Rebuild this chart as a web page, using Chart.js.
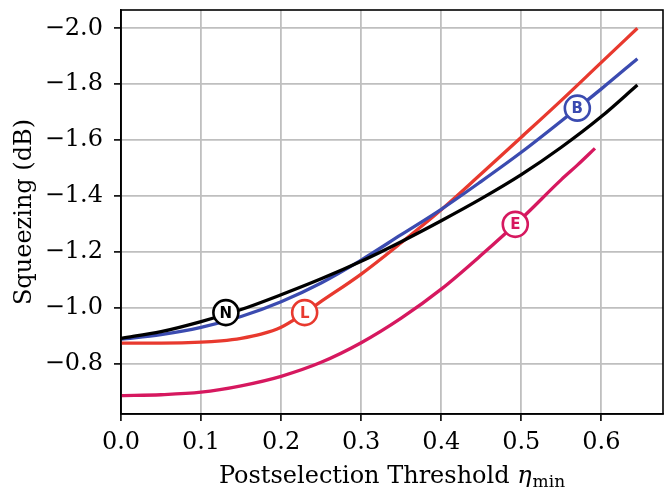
<!DOCTYPE html>
<html><head><meta charset="utf-8">
<style>html,body{margin:0;padding:0;background:#fff}#wrap{width:670px;height:487px}</style>
<script src="https://cdn.jsdelivr.net/npm/chart.js@4"></script>
</head><body><div id="wrap"><canvas id="c" width="670" height="487"></canvas></div>
<script>
// ---- data ----
const xGridN  = [0, 0.05, 0.1, 0.15, 0.2, 0.25, 0.3, 0.35, 0.4, 0.45, 0.5, 0.55, 0.6, 0.645];
const seriesN = [-0.890, -0.914, -0.950, -0.993, -1.046, -1.103, -1.166, -1.236, -1.311, -1.390, -1.476, -1.574, -1.684, -1.797];
const xGridB  = [0, 0.05, 0.1, 0.15, 0.2, 0.25, 0.3, 0.35, 0.4, 0.45, 0.5, 0.55, 0.6, 0.645];
const seriesB = [-0.887, -0.903, -0.929, -0.968, -1.021, -1.088, -1.170, -1.261, -1.352, -1.452, -1.556, -1.668, -1.783, -1.891];
const xGridL  = [0, 0.05, 0.1, 0.125, 0.15, 0.175, 0.2, 0.225, 0.25, 0.3, 0.35, 0.4, 0.45, 0.5, 0.55, 0.6, 0.645];
const seriesL = [-0.873, -0.873, -0.876, -0.881, -0.890, -0.905, -0.930, -0.973, -1.022, -1.120, -1.232, -1.350, -1.479, -1.610, -1.742, -1.878, -2.000];
const xGridE  = [0, 0.05, 0.1, 0.15, 0.2, 0.25, 0.3, 0.35, 0.4, 0.45, 0.5, 0.55, 0.57, 0.592];
const seriesE = [-0.685, -0.688, -0.697, -0.720, -0.754, -0.804, -0.874, -0.962, -1.066, -1.188, -1.318, -1.458, -1.510, -1.570];

const labelNames  = ['N', 'L', 'E', 'B'];
const labelX      = [0.131, 0.2294, 0.4925, 0.570];
const labelY      = [-0.982, -0.982, -1.298, -1.714];

const xTickValues = [0, 0.1, 0.2, 0.3, 0.4, 0.5, 0.6];
const xTickLabels = ['0.0', '0.1', '0.2', '0.3', '0.4', '0.5', '0.6'];
const yTickValues = [-2.0, -1.8, -1.6, -1.4, -1.2, -1.0, -0.8];
const yTickLabels = ['\u22122.0', '\u22121.8', '\u22121.6', '\u22121.4', '\u22121.2', '\u22121.0', '\u22120.8'];

const xTitleMain = 'Postselection Threshold ';
const xTitleSym  = '\u03b7';
const xTitleSub  = 'min';
const yTitle     = 'Squeezing (dB)';

// ---- styles ----
const colN = '#000000', colB = '#3b4bb0', colL = '#e8392e', colE = '#d6185f';
const labelColors = [colN, colL, colE, colB];

const toPts = (xs, ys) => xs.map((x, i) => ({x: x, y: ys[i]}));
const pickLabel = (vals, labs, v) => {
  for (let i = 0; i < vals.length; i++) if (Math.abs(vals[i] - v) < 1e-6) return labs[i];
  return '';
};

const lineDs = (label, pts, color) => ({
  label, data: pts, borderColor: color, backgroundColor: color, borderWidth: 3.3,
  pointRadius: 0, fill: false, cubicInterpolationMode: 'monotone', tension: 0.4,
  borderCapStyle: 'butt', borderJoinStyle: 'round'
});

const decor = {
  id: 'decor',
  afterDatasetsDraw(chart) {
    const {ctx, chartArea: a, scales} = chart;
    ctx.save();
    ctx.font = 'bold 15px "DejaVu Sans"';
    ctx.textAlign = 'center';
    ctx.textBaseline = 'middle';
    labelNames.forEach((n, i) => {
      const px = scales.x.getPixelForValue(labelX[i]);
      const py = scales.y.getPixelForValue(labelY[i]);
      ctx.fillStyle = labelColors[i];
      ctx.fillText(n, px, py + 1);
    });
    ctx.restore();
    ctx.save();
    ctx.strokeStyle = '#000';
    ctx.lineWidth = 1.6;
    ctx.strokeRect(a.left, a.top, a.right - a.left, a.bottom - a.top);
    ctx.restore();
  },
  afterDraw(chart) {
    const {ctx, chartArea: a} = chart;
    ctx.save();
    ctx.fillStyle = '#000';
    ctx.textBaseline = 'alphabetic';
    const fMain = '24px "DejaVu Serif"';
    const fSym = 'italic 24px "DejaVu Serif"';
    const fSub = '17px "DejaVu Serif"';
    ctx.font = fMain; const w1 = ctx.measureText(xTitleMain).width;
    ctx.font = fSym;  const w2 = ctx.measureText(xTitleSym).width;
    ctx.font = fSub;  const w3 = ctx.measureText(xTitleSub).width;
    const total = w1 + w2 + w3 + 1;
    let x = (a.left + a.right) / 2 - total / 2;
    const base = 482.5;
    ctx.textAlign = 'left';
    ctx.font = fMain; ctx.fillText(xTitleMain, x, base); x += w1;
    ctx.font = fSym;  ctx.fillText(xTitleSym, x, base); x += w2 + 1;
    ctx.font = fSub;  ctx.fillText(xTitleSub, x, base + 4);
    ctx.restore();
  }
};

new Chart(document.getElementById('c'), {
  type: 'line',
  data: {
    datasets: [
      {
        label: 'labels', data: toPts(labelX, labelY), showLine: false,
        pointRadius: 12.5, pointHoverRadius: 12.5, pointBorderWidth: 2.6,
        pointBackgroundColor: '#ffffff', pointBorderColor: labelColors,
        borderColor: labelColors, backgroundColor: '#ffffff', clip: false
      },
      lineDs('N', toPts(xGridN, seriesN), colN),
      lineDs('B', toPts(xGridB, seriesB), colB),
      lineDs('L', toPts(xGridL, seriesL), colL),
      lineDs('E', toPts(xGridE, seriesE), colE)
    ]
  },
  options: {
    responsive: false, animation: false, devicePixelRatio: 1,
    layout: {autoPadding: false, padding: {top: 10, right: 7, left: 0, bottom: 0}},
    plugins: {legend: {display: false}, tooltip: {enabled: false}},
    scales: {
      x: {
        type: 'linear', min: 0, max: 0.677,
        ticks: {
          stepSize: 0.1, includeBounds: false, autoSkip: false, maxRotation: 0,
          color: '#000', padding: 7, font: {family: 'DejaVu Serif', size: 24},
          callback: v => pickLabel(xTickValues, xTickLabels, v)
        },
        grid: {color: '#bfbfbf', lineWidth: 1.8, drawTicks: true, tickLength: 7, tickColor: '#000', tickWidth: 1.6},
        border: {display: true, color: '#000', width: 1.6},
        afterFit: s => { s.height = 73; s.paddingLeft = 0; s.paddingRight = 0; }
      },
      y: {
        type: 'linear', reverse: true, min: -2.0655, max: -0.619,
        ticks: {
          stepSize: 0.2, includeBounds: false, autoSkip: false,
          color: '#000', padding: 11, font: {family: 'DejaVu Serif', size: 24},
          callback: v => pickLabel(yTickValues, yTickLabels, v)
        },
        title: {display: true, text: yTitle, color: '#000', font: {family: 'DejaVu Serif', size: 24}, padding: {top: 10, bottom: 0}},
        grid: {color: '#bfbfbf', lineWidth: 1.8, drawTicks: true, tickLength: 7, tickColor: '#000', tickWidth: 1.6},
        border: {display: true, color: '#000', width: 1.6},
        afterFit: s => { s.width = 121; s.paddingTop = 0; s.paddingBottom = 0; }
      }
    }
  },
  plugins: [decor]
});
</script></body></html>
